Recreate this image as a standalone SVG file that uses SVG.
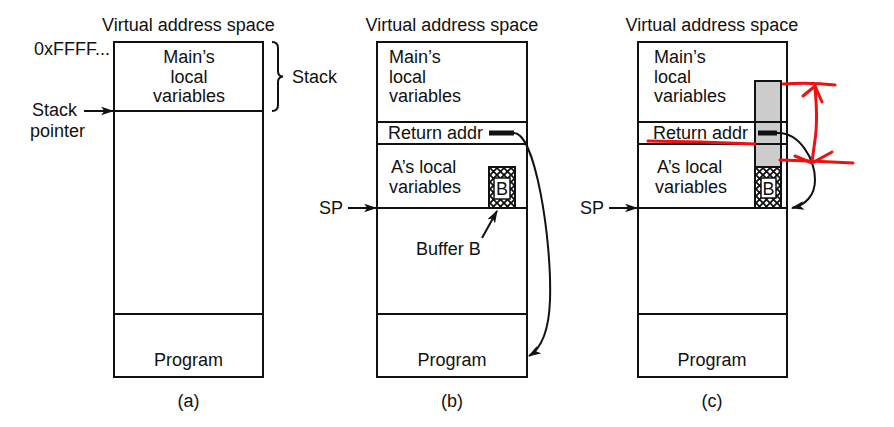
<svg xmlns="http://www.w3.org/2000/svg" width="894" height="427" viewBox="0 0 894 427">
<style>
text{font-family:"Liberation Sans",Arial,sans-serif;font-size:18px;fill:#111}
.c{text-anchor:middle}
.box{fill:#fff;stroke:#111;stroke-width:2}
.ln{stroke:#111;stroke-width:2;fill:none}
.conn{stroke:#111;stroke-width:2;fill:none}
.red{stroke:#f01010;stroke-width:3;fill:none;stroke-linecap:round;stroke-linejoin:round}
</style>
<defs>
<marker id="ah" viewBox="0 0 12 8" refX="11" refY="4" markerWidth="13" markerHeight="9" markerUnits="userSpaceOnUse" orient="auto">
<path d="M0,0 L12,4 L0,8 L3,4 Z" fill="#111"/>
</marker>
<pattern id="hatch" width="7" height="7" patternUnits="userSpaceOnUse">
<rect width="7" height="7" fill="#fff"/>
<path d="M-1,-1 L8,8 M-1,8 L8,-1" stroke="#111" stroke-width="1.8"/>
</pattern>
</defs>

<!-- Panel (a) -->
<g id="panel-a">
<text class="c" x="188.5" y="31">Virtual address space</text>
<rect class="box" x="114" y="42" width="149" height="335"/>
<line class="ln" x1="114" y1="111" x2="263" y2="111"/>
<line class="ln" x1="114" y1="314" x2="263" y2="314"/>
<text class="c" x="189" y="63">Main’s</text>
<text class="c" x="189" y="83">local</text>
<text class="c" x="189" y="102">variables</text>
<text class="c" x="188.5" y="366">Program</text>
<text class="c" x="188.5" y="407">(a)</text>
</g>
<g id="label-0xffff"><text x="34" y="55">0xFFFF...</text></g>
<g id="stack-brace">
<path class="ln" stroke-width="1.5" d="M272,42 Q278,42 278,48 L278,71 Q278,76.5 283,76.5 Q278,77 278,82 L278,105 Q278,111 272,111"/>
<text x="292" y="83">Stack</text>
</g>
<g id="stack-pointer">
<text x="32" y="116">Stack</text>
<text x="30" y="137">pointer</text>
</g>

<!-- Panel (b) -->
<g id="panel-b">
<text class="c" x="452" y="31">Virtual address space</text>
<rect class="box" x="377" y="42" width="150" height="335"/>
<line class="ln" x1="377" y1="122" x2="527" y2="122"/>
<line class="ln" x1="377" y1="144" x2="527" y2="144"/>
<line class="ln" x1="377" y1="208" x2="527" y2="208"/>
<line class="ln" x1="377" y1="314" x2="527" y2="314"/>
<text x="389" y="63">Main’s</text>
<text x="389" y="83">local</text>
<text x="389" y="102">variables</text>
<text x="388" y="139">Return addr</text>
<text x="391" y="173">A’s local</text>
<text x="389" y="193">variables</text>
<text class="c" x="452" y="366">Program</text>
<text class="c" x="452" y="407">(b)</text>
</g>
<g id="buffer-b">
<rect x="489" y="167" width="26" height="41" fill="url(#hatch)" stroke="#111" stroke-width="2"/>
<rect x="494" y="178" width="16" height="21" fill="#fff" stroke="#111" stroke-width="1.5"/>
<text class="c" x="502" y="195" font-size="16">B</text>
</g>
<g id="retaddr-b"><rect x="489" y="130.5" width="25" height="5" fill="#111"/></g>
<g id="sp-b"><text x="319" y="214">SP</text></g>
<g id="buffer-label"><text x="416" y="255">Buffer B</text></g>

<!-- Panel (c) -->
<g id="panel-c">
<text class="c" x="712" y="31">Virtual address space</text>
<rect class="box" x="638" y="42" width="149" height="335"/>
<line class="ln" x1="638" y1="122" x2="787" y2="122"/>
<line class="ln" x1="638" y1="144" x2="787" y2="144"/>
<line class="ln" x1="638" y1="208" x2="787" y2="208"/>
<line class="ln" x1="638" y1="314" x2="787" y2="314"/>
<text x="654" y="63">Main’s</text>
<text x="654" y="83">local</text>
<text x="654" y="102">variables</text>
<text x="653" y="139">Return addr</text>
<text x="657" y="173">A’s local</text>
<text x="655" y="193">variables</text>
<text class="c" x="712" y="366">Program</text>
<text class="c" x="712" y="407">(c)</text>
</g>
<g id="overflow-c">
<rect x="755" y="81" width="26" height="86" fill="#cccccc" stroke="#111" stroke-width="2"/>
<rect x="755" y="167" width="26" height="41" fill="url(#hatch)" stroke="#111" stroke-width="2"/>
<rect x="761" y="178" width="15" height="20" fill="#fff" stroke="#111" stroke-width="1.5"/>
<text class="c" x="768.5" y="195" font-size="16">B</text>
<line x1="755" y1="122" x2="787" y2="122" stroke="#111" stroke-width="2"/>
<line x1="755" y1="144" x2="787" y2="144" stroke="#111" stroke-width="2"/>
<rect x="758" y="130.5" width="19" height="5" fill="#111"/>
</g>
<g id="sp-c"><text x="580" y="214">SP</text></g>

<!-- Connectors -->
<g id="connectors">
<line class="conn" x1="84" y1="111" x2="113" y2="111" marker-end="url(#ah)"/>
<line class="conn" x1="348" y1="208" x2="376" y2="208" marker-end="url(#ah)"/>
<line class="conn" x1="609" y1="208" x2="637" y2="208" marker-end="url(#ah)"/>
<line class="conn" x1="482" y1="238" x2="497" y2="211" marker-end="url(#ah)"/>
<path class="conn" d="M513,133 C535,130 552,240 550,300 C549,330 542,348 529,356" marker-end="url(#ah)"/>
<path class="conn" d="M777,133 C800,132 815,160 815,180 C815,195 806,205 792,208" marker-end="url(#ah)"/>
</g>

<!-- Red annotations -->
<g id="red-marks">
<path class="red" d="M648,141 L700,142 L755,144"/>
<path class="red" d="M783,84 Q810,82 835,85"/>
<path class="red" d="M780,160 Q815,161 853,163"/>
<path class="red" d="M815,87 Q818,120 815,140 L812,162"/>
<path class="red" d="M803,96 L815,86 L822,102"/>
<path class="red" d="M795,156 L812,163 L832,152"/>
</g>
</svg>
